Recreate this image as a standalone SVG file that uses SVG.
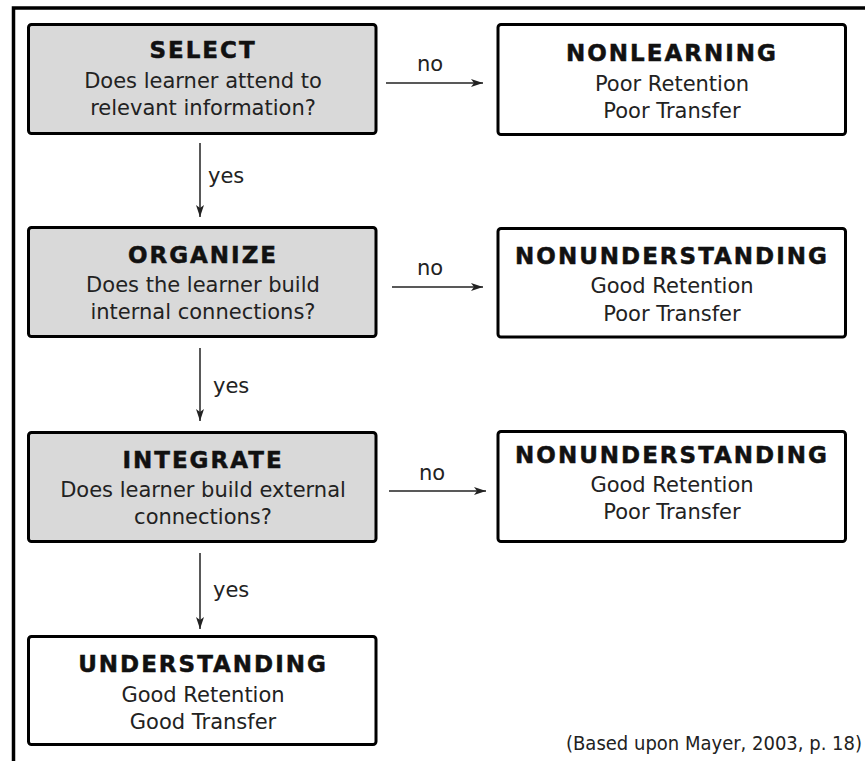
<svg xmlns="http://www.w3.org/2000/svg" width="865" height="761" viewBox="0 0 865 761">
<defs>
<style>
.q{fill:#d9d9d9;stroke:#000;stroke-width:3}
.r{fill:#fff;stroke:#000;stroke-width:3}
.t{font-family:"DejaVu Sans",Verdana,sans-serif;font-weight:bold;font-size:23px;letter-spacing:2px;fill:#111;stroke:#111;stroke-width:0.5;text-anchor:middle}
.b{font-family:"DejaVu Sans",Verdana,sans-serif;font-size:21px;fill:#222;text-anchor:middle}
.l{font-family:"DejaVu Sans",Verdana,sans-serif;font-size:21px;fill:#222}
.c{font-family:"DejaVu Sans Condensed","DejaVu Sans",sans-serif;font-stretch:condensed;font-size:20px;fill:#222;text-anchor:end}
.a{stroke:#222;stroke-width:1.5;fill:none;marker-end:url(#ah)}
</style>
<marker id="ah" viewBox="0 0 12 8" refX="12" refY="4" markerWidth="12" markerHeight="8" markerUnits="userSpaceOnUse" orient="auto">
<path d="M0,0 L12,4 L0,8 L3,4 Z" fill="#222"/>
</marker>
</defs>
<rect width="865" height="761" fill="#fff"/>
<g id="frame">
<path d="M13.5,761 V8 H865" fill="none" stroke="#000" stroke-width="3.5"/>
</g>
<g id="connectors">
<line class="a" x1="386" y1="83" x2="483" y2="83"/>
<text class="l" x="417" y="71">no</text>
<line class="a" x1="392" y1="287" x2="483" y2="287"/>
<text class="l" x="417" y="275">no</text>
<line class="a" x1="389" y1="491" x2="486" y2="491"/>
<text class="l" x="419" y="480">no</text>
<line class="a" x1="200" y1="143" x2="200" y2="217"/>
<text class="l" x="208" y="183">yes</text>
<line class="a" x1="200" y1="348" x2="200" y2="421"/>
<text class="l" x="213" y="393">yes</text>
<line class="a" x1="200" y1="553" x2="200" y2="629"/>
<text class="l" x="213" y="597">yes</text>
</g>
<g id="select">
<rect class="q" x="28.5" y="24.5" width="347.5" height="109" rx="3"/>
<text class="t" x="203" y="57.5">SELECT</text>
<text class="b" x="203" y="88">Does learner attend to</text>
<text class="b" x="203" y="115">relevant information?</text>
</g>
<g id="nonlearning">
<rect class="r" x="498" y="24.5" width="347.5" height="110" rx="3"/>
<text class="t" x="672" y="61">NONLEARNING</text>
<text class="b" x="672" y="91">Poor Retention</text>
<text class="b" x="672" y="118">Poor Transfer</text>
</g>
<g id="organize">
<rect class="q" x="28.5" y="227.5" width="347.5" height="109" rx="3"/>
<text class="t" x="203" y="262.5">ORGANIZE</text>
<text class="b" x="203" y="291.5">Does the learner build</text>
<text class="b" x="203" y="319">internal connections?</text>
</g>
<g id="nonunderstanding1">
<rect class="r" x="498" y="228.5" width="347.5" height="108.5" rx="3"/>
<text class="t" x="672" y="264">NONUNDERSTANDING</text>
<text class="b" x="672" y="293">Good Retention</text>
<text class="b" x="672" y="320.5">Poor Transfer</text>
</g>
<g id="integrate">
<rect class="q" x="28.5" y="432.5" width="347.5" height="109" rx="3"/>
<text class="t" x="203" y="468">INTEGRATE</text>
<text class="b" x="203" y="496.5">Does learner build external</text>
<text class="b" x="203" y="524">connections?</text>
</g>
<g id="nonunderstanding2">
<rect class="r" x="498" y="431.5" width="347.5" height="110" rx="3"/>
<text class="t" x="672" y="463">NONUNDERSTANDING</text>
<text class="b" x="672" y="491.5">Good Retention</text>
<text class="b" x="672" y="519">Poor Transfer</text>
</g>
<g id="understanding">
<rect class="r" x="28.5" y="636.5" width="347.5" height="108" rx="3"/>
<text class="t" x="203" y="671.5">UNDERSTANDING</text>
<text class="b" x="203" y="701.5">Good Retention</text>
<text class="b" x="203" y="729">Good Transfer</text>
</g>
<g id="caption">
<text class="c" x="862" y="750">(Based upon Mayer, 2003, p. 18)</text>
</g>
</svg>
